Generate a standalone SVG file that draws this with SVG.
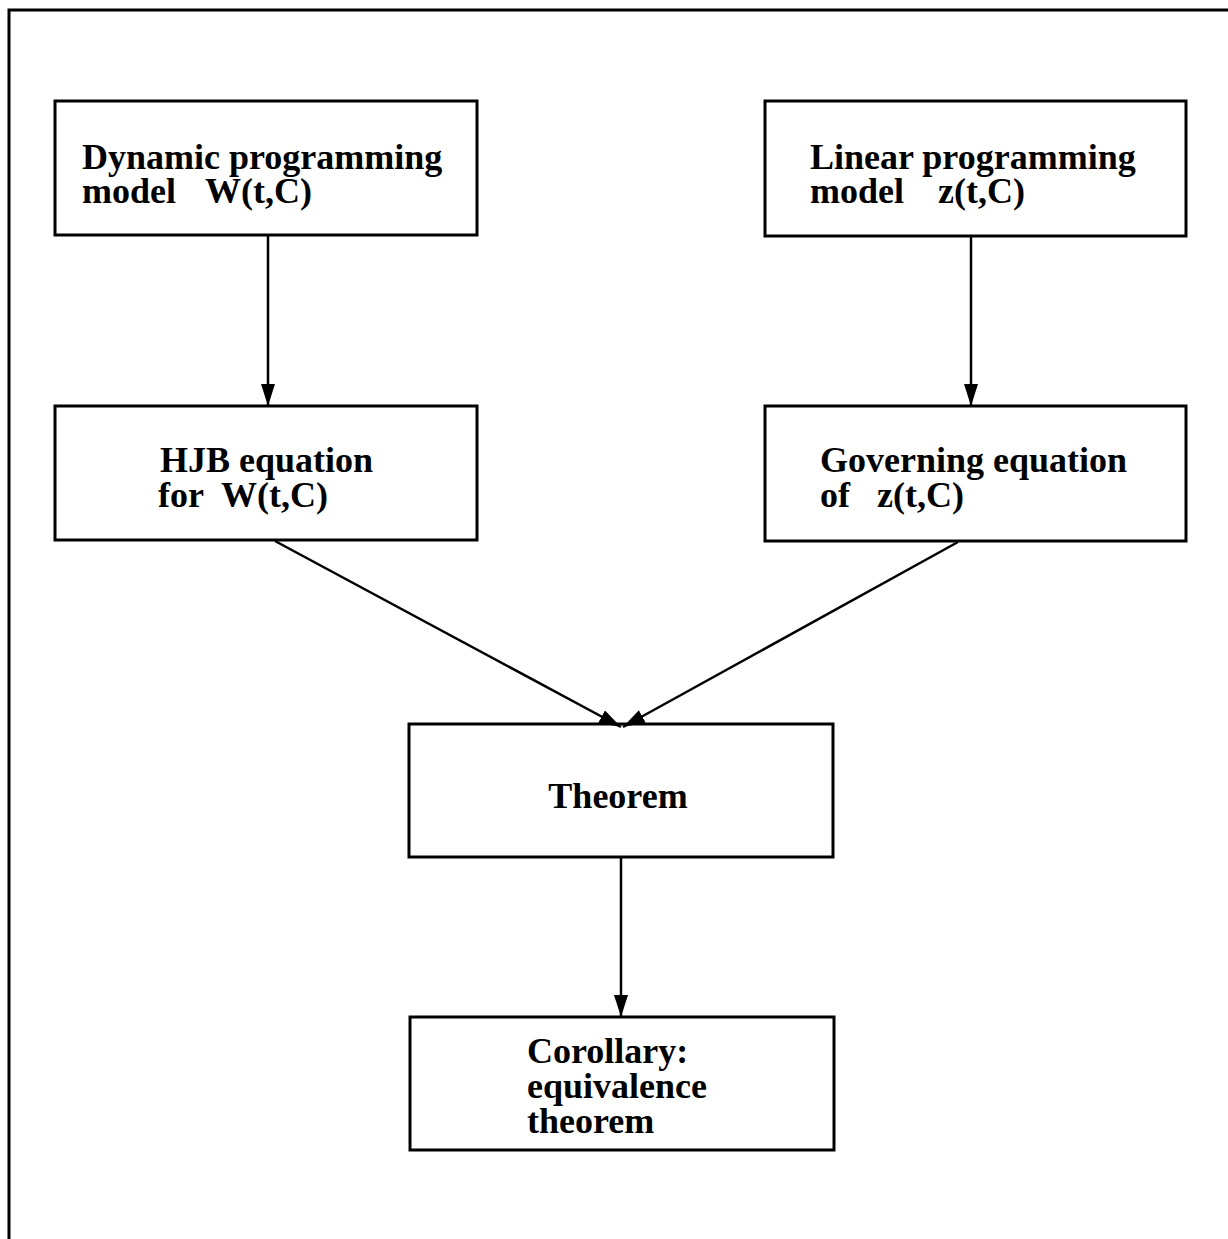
<svg xmlns="http://www.w3.org/2000/svg" width="1228" height="1239" viewBox="0 0 1228 1239">
<defs>
<marker id="ah" viewBox="0 0 22 14" refX="22" refY="7" markerWidth="22" markerHeight="14" markerUnits="userSpaceOnUse" orient="auto">
<path d="M0,0 L22,7 L0,14 Z" fill="#000"/>
</marker>
</defs>
<style>
.box{fill:#fff;stroke:#000;stroke-width:3}
.t{font-family:"Liberation Serif","Times New Roman",serif;font-weight:bold;font-size:36px;fill:#000}
.c{stroke:#000;stroke-width:2.5;fill:none;marker-end:url(#ah)}
</style>
<rect width="1228" height="1239" fill="#fff"/>
<path d="M9,1239 L9,10 L1228,10" fill="none" stroke="#000" stroke-width="3"/>
<g id="n1"><rect class="box" x="55" y="101" width="422" height="134"/>
<text class="t" x="82" y="169">Dynamic programming</text>
<text class="t" x="82" y="203">model<tspan x="205">W(t,C)</tspan></text></g>
<g id="n2"><rect class="box" x="765" y="101" width="421" height="135"/>
<text class="t" x="810" y="169">Linear programming</text>
<text class="t" x="810" y="203">model<tspan x="938">z(t,C)</tspan></text></g>
<g id="n3"><rect class="box" x="55" y="406" width="422" height="134"/>
<text class="t" x="160" y="472">HJB equation</text>
<text class="t" x="158" y="507">for<tspan x="221">W(t,C)</tspan></text></g>
<g id="n4"><rect class="box" x="765" y="406" width="421" height="135"/>
<text class="t" x="820" y="472">Governing equation</text>
<text class="t" x="820" y="507">of<tspan x="877">z(t,C)</tspan></text></g>
<g id="n5"><rect class="box" x="409" y="724" width="424" height="133"/>
<text class="t" x="618" y="808" text-anchor="middle">Theorem</text></g>
<g id="n6"><rect class="box" x="410" y="1017" width="424" height="133"/>
<text class="t" x="527" y="1063">Corollary:</text>
<text class="t" x="527" y="1098">equivalence</text>
<text class="t" x="527" y="1133">theorem</text></g>
<g id="connectors">
<line class="c" x1="268" y1="236" x2="268" y2="406"/>
<line class="c" x1="971" y1="237" x2="971" y2="406"/>
<line class="c" x1="275" y1="541" x2="621" y2="727"/>
<line class="c" x1="958" y1="542" x2="623" y2="727"/>
<line class="c" x1="621" y1="858" x2="621" y2="1017"/>
</g>
</svg>
